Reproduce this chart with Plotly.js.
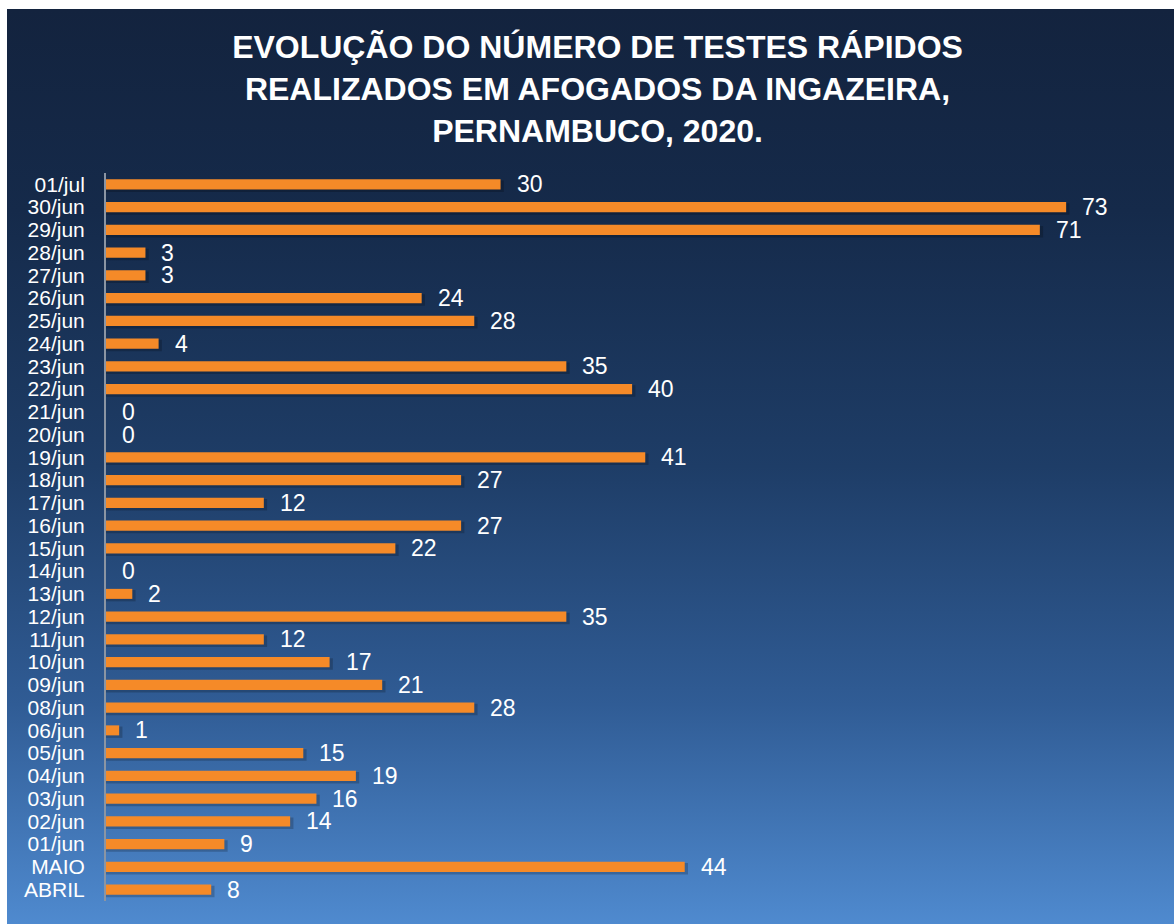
<!DOCTYPE html>
<html>
<head>
<meta charset="utf-8">
<script src="https://cdn.plot.ly/plotly-3.0.1.min.js"></script>
<style>
  html, body { margin: 0; padding: 0; background: #ffffff; }
  #chart {
    position: absolute; left: 7px; top: 9px; width: 1167px; height: 915px;
    background: linear-gradient(to bottom, #13233e 0%, #152a4a 22%, #1e3d67 50%, #305c95 76%, #4f8acf 100%);
  }
</style>
</head>
<body>
<div id="chart"></div>
<script>
// Categories from bottom to top
const categories = ["ABRIL","MAIO","01/jun","02/jun","03/jun","04/jun","05/jun","06/jun","08/jun","09/jun","10/jun","11/jun","12/jun","13/jun","14/jun","15/jun","16/jun","17/jun","18/jun","19/jun","20/jun","21/jun","22/jun","23/jun","24/jun","25/jun","26/jun","27/jun","28/jun","29/jun","30/jun","01/jul"];
const testes = [8,44,9,14,16,19,15,1,28,21,17,12,35,2,0,22,27,12,27,41,0,0,40,35,4,28,24,3,3,71,73,30];

const titleText = "EVOLUÇÃO DO NÚMERO DE TESTES RÁPIDOS<br>REALIZADOS EM AFOGADOS DA INGAZEIRA,<br>PERNAMBUCO, 2020.";

const shadow = {
  type: 'bar', orientation: 'h',
  y: categories, x: testes.map(v => v > 0 ? v + 0.25 : 0),
  width: 0.5, offset: -0.33,
  marker: { color: 'rgba(0,0,0,0.2)' },
  hoverinfo: 'skip', showlegend: false
};

const bars = {
  type: 'bar', orientation: 'h',
  y: categories, x: testes,
  width: 0.44,
  marker: { color: '#f58a28', line: { width: 0 } },
  name: 'Testes rápidos', showlegend: false
};

const annotations = categories.map((c, i) => ({
  x: testes[i], y: c, xref: 'x', yref: 'y',
  text: String(testes[i]), showarrow: false,
  xanchor: 'left', yanchor: 'middle', xshift: 14,
  font: { family: 'Liberation Sans, Arial, sans-serif', size: 23, color: '#ffffff' }
}));

const layout = {
  width: 1167, height: 915,
  paper_bgcolor: 'rgba(0,0,0,0)', plot_bgcolor: 'rgba(0,0,0,0)',
  margin: { l: 99, r: 0, t: 164, b: 23 },
  barmode: 'overlay',
  title: {
    text: '<b>' + titleText + '</b>',
    x: 0.506, xanchor: 'center', y: 0.946, yanchor: 'top', yref: 'container',
    font: { family: 'Liberation Sans, Arial, sans-serif', size: 32, color: '#ffffff' }
  },
  xaxis: {
    range: [0, 81.2], showgrid: false, zeroline: false, showticklabels: false,
    showline: false, fixedrange: true
  },
  yaxis: {
    type: 'category', categoryorder: 'array', categoryarray: categories,
    tickmode: 'array', tickvals: categories, ticktext: categories,
    range: [-0.5, 31.5], showgrid: false, zeroline: false,
    showline: true, linecolor: '#8b95a3', linewidth: 2,
    ticks: '', ticklabelstandoff: 15,
    tickfont: { family: 'Liberation Sans, Arial, sans-serif', size: 21, color: '#ffffff' },
    fixedrange: true
  },
  annotations: annotations,
  showlegend: false
};

Plotly.newPlot('chart', [shadow, bars], layout, { displayModeBar: false, staticPlot: true });
</script>
</body>
</html>
